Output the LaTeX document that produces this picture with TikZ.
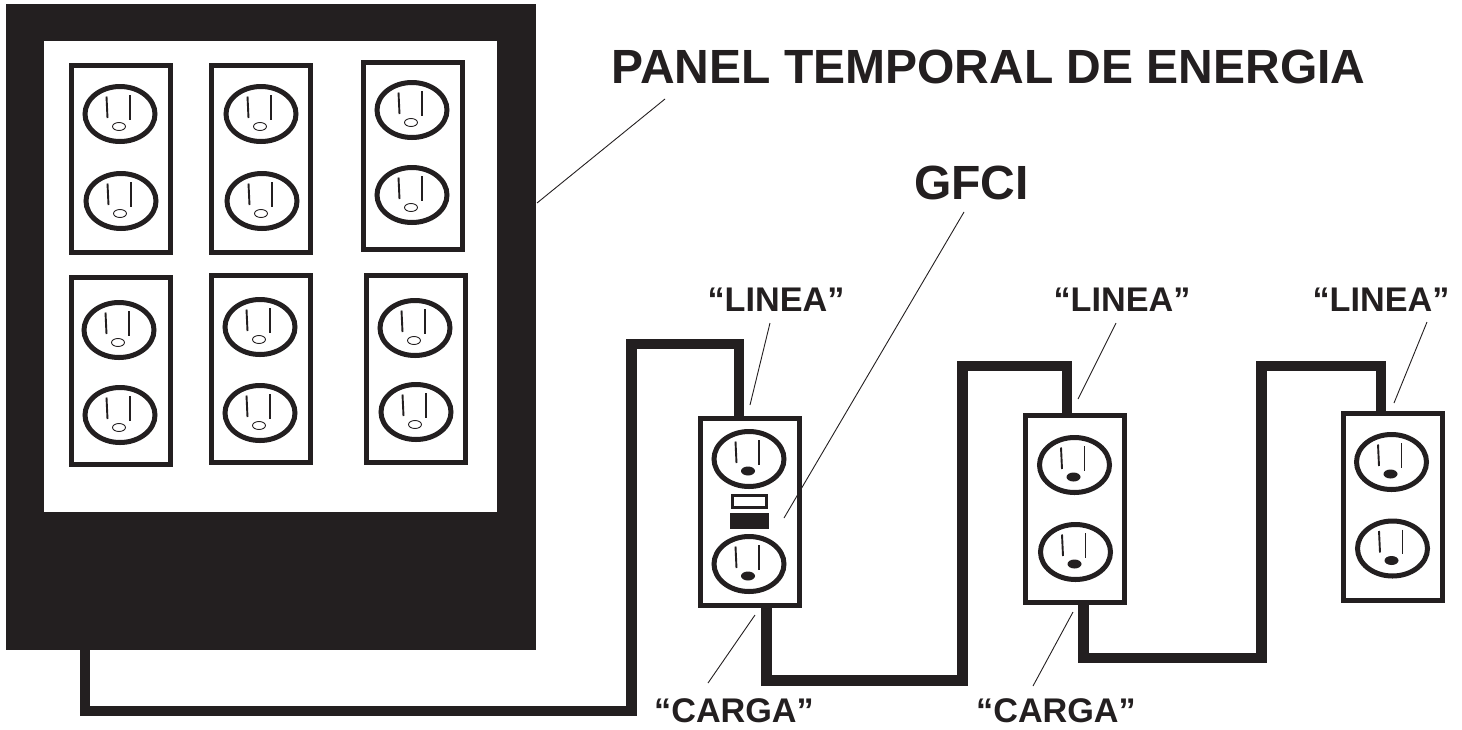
\documentclass[tikz,border=0pt]{standalone}
\usepackage{fontspec}
\setmainfont{Liberation Sans}
\usetikzlibrary{shapes.geometric}
\definecolor{ink}{HTML}{231F20}
\tikzset{
  plate/.style={draw=ink,fill=white,line width=5pt,minimum width=99pt,minimum height=187pt,inner sep=0pt,outer sep=0pt},
  face/.style={ellipse,draw=ink,fill=white,line width=5pt,minimum width=70pt,minimum height=55pt,inner sep=0pt},
  slot/.style={draw=ink,line width=1.9pt},
  gnd/.style={ellipse,draw=ink,fill=white,line width=.9pt,minimum width=13pt,minimum height=8pt,inner sep=0pt},
  gndk/.style={ellipse,fill=ink,minimum width=14pt,minimum height=9pt,inner sep=0pt},
  wire/.style={draw=ink,line width=10.5pt,line join=miter},
  leader/.style={draw=ink,line width=.9pt},
  lab/.style={font=\bfseries\fontsize{34.2}{34.2}\selectfont,text=ink,inner sep=0pt,anchor=center},
  big/.style={font=\bfseries\fontsize{48}{48}\selectfont,text=ink,inner sep=0pt,anchor=center}
}
\newcommand\outletw[3]{%
  \node[face] (#1) at (#2,#3) {};
  \draw[slot] (#2-13.5,#3-17.5) -- (#2-12.5,#3+4);
  \draw[slot] (#2+10,#3-19) -- (#2+10,#3+5.5);
  \node[gnd] (#1g) at (#2-1,#3+12.5) {};
}
\newcommand\outletk[3]{%
  \node[face] (#1) at (#2,#3) {};
  \draw[slot] (#2-13.5,#3-17.5) -- (#2-12.5,#3+4);
  \draw[slot] (#2+10,#3-19) -- (#2+10,#3+5.5);
  \node[gndk] (#1g) at (#2-1,#3+12) {};
}
\begin{document}
\begin{tikzpicture}[x=1pt,y=-1pt]
\useasboundingbox (0,0) rectangle (1462,729);
% coordinates for the wires
\coordinate (w1a) at (85,645);
\coordinate (w1b) at (85,711);
\coordinate (w1c) at (631.5,711);
\coordinate (w1d) at (631.5,344);
\coordinate (w1e) at (739,344);
\coordinate (w1f) at (739,420);
\coordinate (w2a) at (766.5,604);
\coordinate (w2b) at (766.5,680.5);
\coordinate (w2c) at (962.5,680.5);
\coordinate (w2d) at (962.5,366);
\coordinate (w2e) at (1067,366);
\coordinate (w2f) at (1067,418);
\coordinate (w3a) at (1083.5,601);
\coordinate (w3b) at (1083.5,658);
\coordinate (w3c) at (1261.5,658);
\coordinate (w3d) at (1261.5,366);
\coordinate (w3e) at (1381,366);
\coordinate (w3f) at (1381,415);
\draw[wire] (w1a) -- (w1b) -- (w1c) -- (w1d) -- (w1e) -- (w1f);
\draw[wire] (w2a) -- (w2b) -- (w2c) -- (w2d) -- (w2e) -- (w2f);
\draw[wire] (w3a) -- (w3b) -- (w3c) -- (w3d) -- (w3e) -- (w3f);
% panel
\node[fill=ink,minimum width=530pt,minimum height=646pt,inner sep=0pt,outer sep=0pt] (panel) at (271,327) {};
\node[fill=white,minimum width=453pt,minimum height=471pt,inner sep=0pt,outer sep=0pt] (window) at (270.5,276.5) {};
% panel plates
\node[plate] (p1) at (120.5,159) {};
\outletw{a1}{120}{114}\outletw{a2}{121}{201}
\node[plate] (p2) at (261,159) {};
\outletw{b1}{261}{114}\outletw{b2}{262}{201}
\node[plate] (p3) at (412.5,155.5) {};
\outletw{c1}{412}{110}\outletw{c2}{412}{195}
\node[plate] (p4) at (120.5,370.5) {};
\outletw{d1}{119}{330}\outletw{d2}{120}{415}
\node[plate] (p5) at (261,368.5) {};
\outletw{e1}{260}{327}\outletw{e2}{260}{413}
\node[plate] (p6) at (416,368.5) {};
\outletw{f1}{415}{328}\outletw{f2}{416}{412}
% string of outlets
\node[plate] (g1) at (749.5,512) {};
\outletk{h1}{749}{459}\outletk{h2}{749}{564}
\node[draw=ink,fill=white,line width=3pt,minimum width=34pt,minimum height=12.5pt,inner sep=0pt] (btna) at (749.5,501.5) {};
\node[fill=ink,minimum width=39pt,minimum height=16pt,inner sep=0pt] (btnb) at (749.5,521) {};
\node[plate] (g2) at (1075,509) {};
\outletk{i1}{1074.5}{465}\outletk{i2}{1075.5}{552}
\node[plate] (g3) at (1392.5,506.5) {};
\outletk{j1}{1391.5}{462}\outletk{j2}{1392.5}{548.5}
% labels
\node[big] (tpanel) at (988.5,67) {PANEL TEMPORAL DE ENERGIA};
\node[big] (tgfci) at (971.5,183) {GFCI};
\node[lab] (l1) at (776,300) {“LINEA”};
\node[lab] (l2) at (1122,300) {“LINEA”};
\node[lab] (l3) at (1381,300) {“LINEA”};
\node[lab] (c1) at (734,711) {“CARGA”};
\node[lab] (c2) at (1056,711) {“CARGA”};
% leaders
\coordinate (t0) at (537,203);
\coordinate (t1) at (784,518);
\coordinate (t2) at (750,405);
\coordinate (t3) at (1078,399);
\coordinate (t4) at (1394,403);
\coordinate (t5) at (755,615);
\coordinate (t6) at (1073,612);
\draw[leader] (665,99) -- (t0);
\draw[leader] (964,212) -- (t1);
\draw[leader] (770,323) -- (t2);
\draw[leader] (1116,323) -- (t3);
\draw[leader] (1427,322) -- (t4);
\draw[leader] (708,683) -- (t5);
\draw[leader] (1033,686) -- (t6);
\end{tikzpicture}
\end{document}
